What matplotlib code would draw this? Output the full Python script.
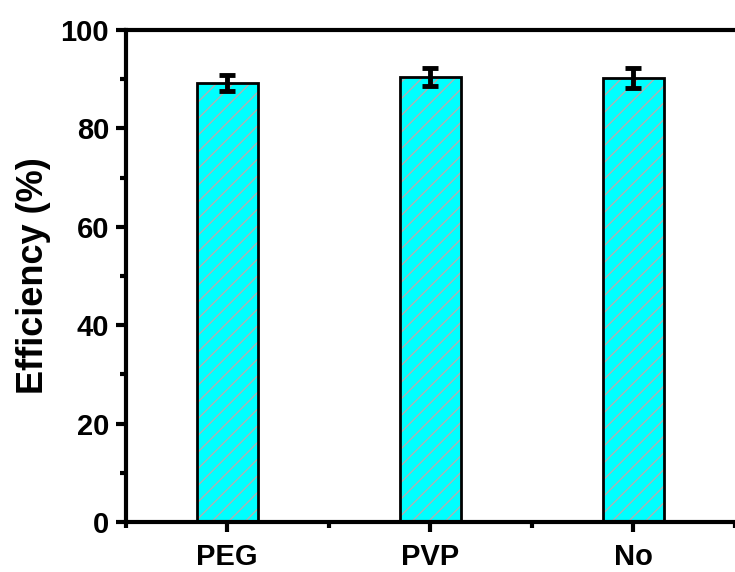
import matplotlib
matplotlib.use("Agg")
from matplotlib import pyplot as plt
from matplotlib.ticker import MultipleLocator

categories = ["PEG", "PVP", "No"]
efficiency = [89.2, 90.5, 90.2]
errors = [1.6, 1.8, 2.0]

plt.rcParams['font.family'] = ['Liberation Sans', 'DejaVu Sans']
plt.rcParams['font.weight'] = 'bold'
plt.rcParams['hatch.linewidth'] = 1.0

fig = plt.figure(figsize=(7.35, 5.72), dpi=100)
ax = fig.add_axes([0.171, 0.0874, 0.829, 0.8602])

x = list(range(1, len(categories) + 1))
# hatch drawn in grey, outline drawn on top in black
ax.bar(x, efficiency, width=0.3, color="#00ffff", edgecolor="#b0b0b0",
       hatch="//", linewidth=0, zorder=2)
ax.bar(x, efficiency, width=0.3, color="none", edgecolor="black",
       linewidth=2, zorder=3)
ax.errorbar(x, efficiency, yerr=errors, fmt="none", ecolor="black",
            elinewidth=3.5, capsize=6, capthick=3.5, zorder=4)

ax.set_xlim(0.5, 3.49)
ax.set_ylim(0, 100)
ax.set_xticks(x)
ax.set_xticklabels(categories)
ax.set_xticks([0.5, 1.5, 2.5, 3.5], minor=True)
ax.yaxis.set_major_locator(MultipleLocator(20))
ax.yaxis.set_minor_locator(MultipleLocator(10))

ax.set_ylabel("Efficiency (%)", fontsize=26, fontweight="bold", labelpad=7)
ax.tick_params(axis="both", which="major", direction="out", length=7,
               width=3, labelsize=21)
ax.tick_params(axis="x", which="major", pad=8)
ax.tick_params(axis="y", which="major", pad=5)
ax.tick_params(axis="both", which="minor", direction="out", length=4, width=3)

for side in ["left", "bottom", "top"]:
    ax.spines[side].set_linewidth(3)
ax.spines["right"].set_visible(False)

fig.savefig("out.png", dpi=100)
